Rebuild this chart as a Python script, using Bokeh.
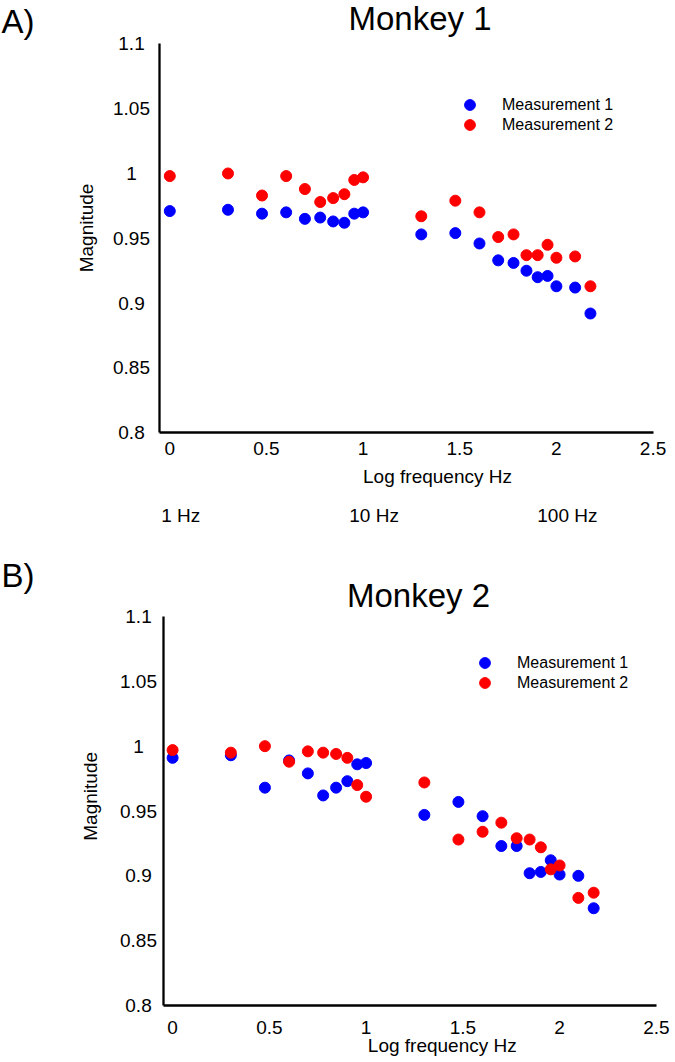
import math
from bokeh.plotting import figure
from bokeh.models import (ColumnDataSource, FixedTicker, Legend, LegendItem, LinearAxis,
                          Range1d)
from bokeh.layouts import column
from bokeh.core.properties import value
from bokeh.embed import file_html
from bokeh.resources import INLINE

# ---------------- data ----------------
freqs_hz = [1, 2, 3, 4, 5, 6, 7, 8, 9, 10, 20, 30, 40, 50, 60, 70, 80, 90, 100, 125, 150]

m1_meas1 = [0.971, 0.972, 0.969, 0.970, 0.965, 0.966, 0.963, 0.962, 0.969, 0.970,
            0.953, 0.954, 0.946, 0.933, 0.931, 0.925, 0.920, 0.921, 0.913, 0.912, 0.892]
m1_meas2 = [0.998, 1.000, 0.983, 0.998, 0.988, 0.978, 0.981, 0.984, 0.995, 0.997,
            0.967, 0.979, 0.970, 0.951, 0.953, 0.937, 0.937, 0.945, 0.935, 0.936, 0.913]

m2_meas1 = [0.991, 0.993, 0.968, 0.989, 0.979, 0.962, 0.968, 0.973, 0.986, 0.987,
            0.947, 0.957, 0.946, 0.923, 0.923, 0.902, 0.903, 0.912, 0.901, 0.900, 0.875]
m2_meas2 = [0.997, 0.995, 1.000, 0.988, 0.996, 0.995, 0.994, 0.991, 0.970, 0.961,
            0.972, 0.928, 0.934, 0.941, 0.929, 0.928, 0.922, 0.905, 0.908, 0.883, 0.887]

x_ticks = [0, 0.5, 1, 1.5, 2, 2.5]
y_ticks = [0.8, 0.85, 0.9, 0.95, 1.0, 1.05, 1.1]
y_tick_labels = ["0.8", "0.85", "0.9", "0.95", "1", "1.05", "1.1"]
hz_values = [1, 10, 100]
hz_labels = ["1 Hz", "10 Hz", "100 Hz"]
series_names = ["Measurement 1", "Measurement 2"]
titles = ["Monkey 1", "Monkey 2"]
panel_tags = ["A)", "B)"]
x_label = "Log frequency Hz"
y_label = "Magnitude"
x_min, x_max = 0.0, 2.5
y_min, y_max = 0.8, 1.1

FONT = "Liberation Sans"
BLUE = "#0000FF"
RED = "#FF0000"
W = 675


def make_panel(meas1, meas2, title, tag, height, xr, yr, x_lo, layout):
    logf = [math.log10(f) for f in freqs_hz]
    p = figure(width=W, height=height, x_range=Range1d(*xr), y_range=Range1d(*yr),
               x_axis_type=None, y_axis_type=None,
               output_backend="svg", toolbar_location=None,
               min_border_left=0, min_border_right=0, min_border_top=0,
               min_border_bottom=0)
    p.outline_line_color = None
    p.background_fill_color = "white"
    p.border_fill_color = "white"

    xaxis = LinearAxis(fixed_location=y_min, bounds=(x_lo, x_max),
                       ticker=FixedTicker(ticks=x_ticks),
                       major_label_overrides={0: "0", 1: "1", 2: "2"})
    yaxis = LinearAxis(fixed_location=x_lo, bounds=(y_min, y_max),
                       ticker=FixedTicker(ticks=[]))
    for ax in (xaxis, yaxis):
        ax.axis_line_color = "black"
        ax.axis_line_width = 2.3
        ax.major_tick_line_color = None
        ax.minor_tick_line_color = None
        ax.major_label_text_font = FONT
        ax.major_label_text_font_size = "19px"
        ax.major_label_text_color = "black"
    xaxis.major_label_standoff = layout["tick_standoff"]
    p.add_layout(xaxis, "below")
    p.add_layout(yaxis, "left")

    src = ColumnDataSource(dict(x=logf, m1=meas1, m2=meas2))
    r1 = p.scatter("x", "m1", source=src, size=11, color=BLUE, line_color=BLUE)
    r2 = p.scatter("x", "m2", source=src, size=11, color=RED, line_color=RED)

    for item_i, (rend, name) in enumerate(((r1, series_names[0]), (r2, series_names[1]))):
        lx, ly = layout["legend"][item_i]
        lg = Legend(items=[LegendItem(label=name, renderers=[rend])],
                    location=(lx, ly), glyph_width=27, glyph_height=27,
                    label_height=27, spacing=0, label_standoff=19, padding=0, margin=0,
                    border_line_color=None, background_fill_alpha=0,
                    label_text_font=FONT, label_text_font_size="16px",
                    label_text_color="black")
        p.add_layout(lg, "center")

    # y tick labels, centred as in the reference
    ysrc = ColumnDataSource(dict(y=y_ticks, t=y_tick_labels,
                                 x=[layout["ytick_x"]] * len(y_ticks)))
    p.text("x", "y", text="t", source=ysrc, text_align="center", text_baseline="middle",
           text_font=value(FONT), text_font_size=value("19px"), text_color="black")

    def put(xy, txt, size, align="center", angle=0.0):
        s = ColumnDataSource(dict(x=[xy[0]], y=[xy[1]], t=[txt]))
        p.text("x", "y", text="t", source=s, text_align=align, text_baseline="middle",
               angle=angle, text_font=value(FONT), text_font_size=value(size),
               text_color="black")

    put(layout["title"], title, "33px")
    put(layout["tag"], tag, "33px", align="left")
    put(layout["ylab"], y_label, "19px", angle=math.pi / 2)
    put(layout["xlab"], x_label, "19px")
    if layout.get("hz_y") is not None:
        hsrc = ColumnDataSource(dict(x=[math.log10(v) for v in hz_values], t=hz_labels,
                                     y=[layout["hz_y"]] * len(hz_values)))
        p.text("x", "y", text="t", source=hsrc, x_offset=11, text_align="center",
               text_baseline="middle", text_font=value(FONT),
               text_font_size=value("19px"), text_color="black")
    return p


HA = 548
HB = 1062 - HA

pA = make_panel(m1_meas1, m1_meas2, titles[0], panel_tags[0], HA,
                xr=(-0.8758, 2.6161), yr=(0.71078, 1.13339), x_lo=-0.0517,
                layout=dict(tick_standoff=3, ytick_x=-0.1981,
                            title=(1.2944, 1.1195), tag=(-0.8707, 1.1172),
                            ylab=(-0.432, 0.958), xlab=(1.3849, 0.7663), hz_y=0.7366,
                            legend=[(456, 430), (456, 410)]))

pB = make_panel(m2_meas1, m2_meas2, titles[1], panel_tags[1], HB,
                xr=(-0.8894, 2.599), yr=(0.75605, 1.15244), x_lo=-0.0496,
                layout=dict(tick_standoff=9, ytick_x=-0.1762,
                            title=(1.2708, 1.1162), tag=(-0.8842, 1.1316),
                            ylab=(-0.4258, 0.9613), xlab=(1.3938, 0.7694), hz_y=None,
                            legend=[(471, 386), (471, 366)]))

layout = column(pA, pB, spacing=0)
open("out.html", "w").write(file_html(layout, INLINE))
